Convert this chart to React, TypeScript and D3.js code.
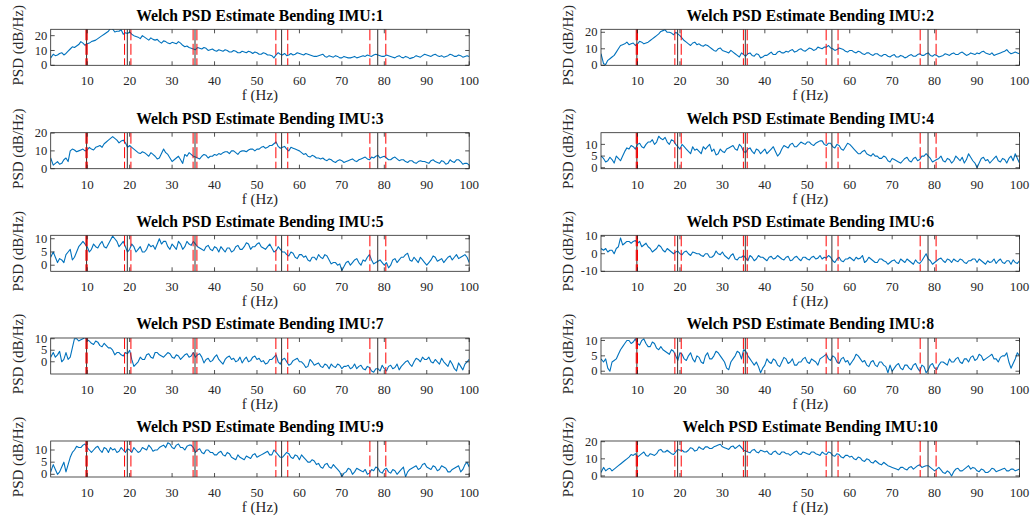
import React from 'react';
import * as d3 from 'd3';

// frequency grid (Hz): 1.4, then every 0.5 Hz from 2 to 100
const freq = [1.4, ...d3.range(2, 100.01, 0.5)];

// PSD values (dB/Hz) at 1.4 and at whole Hz 2..100
const imu1 = [5, 7.5, 7, 8.5, 8, 11, 12, 14, 15, 14.5, 16, 17, 19, 21, 23, 24.5, 23, 24, 22, 22.5, 20, 19, 20, 18, 18.5, 17, 16, 16.5, 15, 15.5, 14.5, 15, 12.5, 12, 11, 12, 11, 11.5, 10.5, 10, 10.5, 9.5, 10, 9, 9.5, 8.5, 9, 9.5, 8, 8.5, 7.5, 8, 7, 5, 8.5, 7, 6.5, 8, 7.5, 8, 7, 7.5, 6.5, 6, 7, 6, 6.5, 5.5, 6, 5, 5.5, 5, 6, 5.5, 6.5, 7, 6, 7.5, 6.5, 6, 6.5, 5.5, 6, 5.5, 6, 4.5, 5.5, 6, 6.5, 7, 6, 7.5, 6, 5.5, 6.5, 7, 6, 6.5, 6, 6];
const imu2 = [7, 1, 3, 5, 8, 12, 13, 12.5, 13.5, 13, 14, 13.5, 15, 17, 19, 21, 20, 19.5, 20, 18, 15, 13, 13.5, 12.5, 12, 12.5, 11, 9, 10, 9, 8, 9, 7, 5, 6.5, 7, 6, 7, 4.5, 6, 7, 6.5, 8, 7.5, 8.5, 9, 8, 9.5, 9, 9.5, 10, 9.5, 10.5, 11, 12, 10, 9.5, 10, 8.5, 9, 8, 8.5, 7, 7.5, 6.5, 7, 6, 6.5, 5.5, 6, 5, 6, 4.5, 6, 5.5, 6.5, 6, 7, 6, 6.5, 5, 6, 6.5, 7, 6.5, 7.5, 7, 6.5, 7, 7.5, 8, 7.5, 6.5, 6, 7, 8, 9.5, 7, 8, 7];
const imu3 = [6, 2, 4, 3, 6, 10, 10.5, 10, 11, 10.5, 11, 12, 13, 14, 16, 18, 16, 15.5, 14.5, 13, 11, 9, 9.5, 8, 9, 7, 6, 11, 8, 4, 6, 5, 8, 9, 7, 6, 7, 7.5, 7, 8, 8.5, 9, 9.5, 10, 9, 9.5, 10, 10.5, 11, 11, 12, 11.5, 13, 14, 12.5, 12, 11, 12, 11, 10, 8, 7, 7.5, 6, 5.5, 5, 5.5, 4, 4.5, 4.5, 4, 5, 4.5, 5, 6, 5.5, 6.5, 7, 6, 7, 5, 6, 5.5, 5, 4, 4.5, 3.5, 4, 4, 3.5, 4.5, 4, 3, 4, 3, 4, 5, 4, 3, 2];
const imu4 = [5, 4, 3, 3.5, 5, 3, 7, 8, 9, 10, 9, 10, 11, 10, 13.5, 12, 11, 12, 10, 8, 9, 7, 9, 8, 6, 8, 10, 8, 6, 7, 8, 9, 8, 10, 7, 8, 7, 8, 6, 8, 7, 9, 5, 8, 9, 10, 9, 10, 10.5, 11, 10, 10.5, 11.5, 10, 10.5, 9, 10, 8, 9, 10, 8, 6, 7, 6, 5, 5, 4, 5, 3, 4, 3, 2, 4, 3, 4, 3, 5, 6, 4, 3, 4, 3, 4, 2, 5, 3, 2, 6, 3, 0, 4, 3, 2, 4, 3, 4, 2, 5, 6, 2];
const imu5 = [3, 5, 1, 2, 4, 6, 3, 7, 9, 7, 6, 7, 8, 7, 8, 11, 9, 8, 7, 6, 7, 6, 5, 6, 7, 6, 10, 9, 7, 8, 6, 8, 7, 8, 9, 7, 6, 7, 6, 7, 5, 6, 6.5, 5, 7, 6, 7, 8, 7, 8, 7, 6, 8, 5, 7, 5, 4, 5, 3, 4, 3, 2, 3, 2, 3, 4, 2, 1, 0, -2, 1, 0, 2, 1, 2, 3, 2, 1, 2, 0, -1, 2, 1, 3, 4, 2, 3, 1, 2, 0, 2, 3, 2, 1, 3, 2, 4, 3, 4, 1];
const imu6 = [3, 2, 1, 2, 3, 9, 6, 7, 7, 6, 4, 6, 3, 2, 5, 2, 3, 1, 1, 0, 1, 0, 1, 0, -1, 0, -2, -1, 0, 1, -2, -1, -3, -2, -1, -4, -2, -3, -2, -3, -2, -3, -1, -3, -2, -4, -2, -3, -2, -3, -2, -3, -1, -2, -1, -4, -3, -4, -3, -2, -4, -3, -1, -4, -3, -5, -3, -4, -6, -4, -5, -3, -5, -4, -6, -5, -4, 0, -4, -5, -3, -4, -3, -5, -4, -3, -5, -4, -3, -5, -4, -6, -5, -3, -4, -5, -4, -6, -5, -4];
const imu7 = [2, 4, 3, 0, 4, 2, 10, 9, 10, 9.5, 8, 9, 7, 8, 6, 5, 4, 3, 4, 5, -2, 0, 1, 3, 2, 4, 3, 2, 4, 2, 3, 1, 3, 2, 4, 3, 2, 1, 0, 2, 1, -1, 2, 1, 0, 2, 1, 0, 2, 1, 0, -1, 1, 2, 0, 1, 0, -1, 1, 0, -1, -2, 0, -1, -2, -1, -3, -2, -1, -3, -2, -3, -1, -2, -3, -2, -4, -3, -4, -3, -2, -3, -1, -2, 0, -1, 0, 1, 2, 1, 0, 1, -1, 0, -2, -1, -4, -2, -1, 1];
const imu8 = [4, 3, 1, 3, 4, 7, 9, 10, 9.5, 9, 10, 9, 8, 9, 7, 7, 6, 7, 5, 6, 4, 5, 4, 5, 3, 5, 4, 5, 6, 4, 1, 3, 5, 6, 7, 5, 3, 3, -0.5, 2, 3, 4, 2, 3, 4, 3, 2, 3, 4, 3, 4, 3, 4, 5, 4, 5, 3, 4, 3, 2, 4, 5, 3, 2, 3, 2, 3, 2, -0.5, 0, 2, 1, 2, 1, 2, 1, 2, -0.5, 2, 1, 2, 3, 2, 3, 4, 3, 4, 3, 5, 4, 5, 4, 5, 4, 3, 5, 6, 1, 4, 5];
const imu9 = [1, 4, 0, 3, 1, 7, 10, 11, 12, 11, 9, 11, 10, 11, 9, 10, 9, 11, 9, 10, 11, 9, 11, 10, 11, 10, 11, 12, 13, 11, 12, 11, 10, 12, 11, 10, 9, 10, 9, 8, 9, 8, 9, 7, 6, 7, 6, 7, 8, 7, 8, 9, 8, 10, 8, 7, 9, 7, 8, 6, 7, 5, 6, 4, 3, 4, 3, 4, 2, -1, 1, 2, 1, 2, 1, 0, 2, 3, 1, 2, 1, 2, 0, 2, -1, 2, 3, 2, 4, 3, 2, 3, 2, 3, 1, 2, 3, 1, 4, 3];
const imu10 = [2, 5, 4, 3, 5, 7, 9, 11, 12, 11, 13, 12, 13, 12, 15, 14, 15, 13, 14, 15, 14, 15, 16, 15, 16, 17, 16, 17, 18, 17, 16, 17, 16, 18, 15, 14, 15, 14, 15, 14, 13, 14, 13, 14, 13, 12, 14, 13, 14, 13, 14, 13, 12, 13, 14, 12, 13, 11, 12, 11, 10, 11, 9, 10, 8, 9, 7, 8, 6, 5, 4, 5, 4, 5, 4, 6, 5, 6, 5, 3, 5, 2, 3, 0, 4, 3, 4, 6, 5, 3, 4, 2, 3, 4, 3, 4, 3, 4, 3, 4];

// PSD values at the half-Hz points 2.5..99.5
const imu1Half = [6.5, 8, 7, 9.5, 12.5, 13, 16, 13.5, 15, 16.5, 18, 20, 22, 25, 22.5, 23, 21, 21.5, 21, 19.5, 18, 19, 17, 17.5, 17.5, 15, 16, 14.5, 15, 16, 13.5, 13, 11.5, 10.5, 11.5, 12, 10, 11, 9.5, 10, 10.5, 9, 10, 8.5, 9.5, 8.5, 9, 9, 7.5, 8.5, 7, 6.5, 7, 7.5, 8, 7, 7, 8.5, 7.5, 8, 7, 6, 6.5, 7.5, 5.5, 6, 6.5, 5, 6, 5, 5.5, 5, 6, 6, 6.5, 7, 7, 6, 7, 6, 5, 6.5, 5, 5.5, 5, 6.5, 5.5, 7.5, 6.5, 7, 6.5, 6.5, 6, 7.5, 6, 7, 5.5, 6.5];
const imu2Half = [0.5, 4, 6, 10, 12.5, 14, 13, 12, 14.5, 13, 14, 16, 18, 20.5, 21.5, 20, 18.5, 19, 16.5, 14, 12, 14, 13, 11.5, 12, 10, 8.5, 10.5, 8.5, 7.5, 8, 6, 7.5, 5.5, 7.5, 5.5, 6.5, 5, 6, 8, 6.5, 8.5, 7.5, 8, 9.5, 8.5, 10, 8.5, 10.5, 9, 11, 10, 11, 10.5, 9, 10.5, 9.5, 8, 9, 7.5, 8, 6.5, 7.5, 6, 7, 5.5, 6.5, 5, 6.5, 5, 5.5, 5, 6.5, 5.5, 7, 6, 7.5, 5.5, 6, 5.5, 7, 6, 7.5, 6.5, 8, 6, 7.5, 6.5, 7, 8.5, 7, 7.5, 6.5, 7.5, 8.5, 8, 7.5, 7.5];
const imu3Half = [3, 2.5, 5, 4, 11, 9.5, 10.5, 10, 12, 10.5, 12.5, 12, 15, 17, 17, 14.5, 16, 12, 12, 10, 8.5, 9, 7, 8, 5.5, 8.5, 9, 6, 5, 7, 3, 7, 8, 6.5, 5.5, 8, 6, 7, 7.5, 8, 9.5, 8.5, 10, 8, 10, 9.5, 11, 10, 11, 12.5, 12, 13, 15, 11.5, 12.5, 10, 11.5, 10.5, 9, 8.5, 6.5, 7, 6, 6, 4.5, 5, 3.5, 5, 3.5, 4.5, 5.5, 4, 5.5, 6.5, 5, 6, 7.5, 6.5, 6, 5, 6.5, 4.5, 5, 3.5, 4.5, 3, 4.5, 4, 3, 5, 3.5, 4.5, 2.5, 5, 3.5, 5, 2.5, 3];
const imu4Half = [2.5, 4.5, 2, 4, 5, 8.5, 9.5, 8, 10.5, 8.5, 11, 12, 11, 12.5, 13, 10, 11.5, 9, 10, 8, 6, 7.5, 7, 9, 9, 7, 5.5, 8, 6.5, 8.5, 9.5, 7.5, 9, 6.5, 8.5, 6, 7.5, 7, 6, 8, 7, 6, 9.5, 8.5, 10.5, 9, 11, 10, 11, 9.5, 11, 11.5, 9.5, 10.5, 8.5, 9.5, 7.5, 10.5, 9, 7, 6, 7.5, 5.5, 6, 5, 4, 4.5, 2.5, 3.5, 2.5, 3, 4.5, 2.5, 4.5, 3.5, 5, 5, 2.5, 3.5, 5, 2.5, 3.5, 3, 4, 4.5, 3.5, 4.5, 2, 2, 4.5, 3.5, 3, 5, 2.5, 3.5, 4, 3, 4];
const imu5Half = [3, 2.5, 1, 5, 2, 5, 8, 8, 5, 8, 6.5, 9, 6.5, 9.5, 10, 7, 9, 5, 8, 5, 7, 5, 8, 7.5, 8, 8, 9, 6, 7, 9, 6, 9, 7.5, 8, 6.5, 5.5, 7.5, 5.5, 6.5, 7, 5, 6.5, 5.5, 7.5, 6, 8.5, 6, 7, 8.5, 6.5, 7, 6.5, 5.5, 6, 5, 3.5, 4.5, 2.5, 4, 3.5, 1.5, 3, 4, 2.5, 3.5, 0.5, 1, 0.5, -0.5, 1.5, 1, 2.5, 0, 1.5, 4, 0.5, 1.5, 1, 1, 0, 2.5, 2, 3, 4.5, 1.5, 2, 3, 1, 1, 3.5, 1.5, 2.5, 2, 3.5, 3, 2.5, 3.5, 3];
const imu6Half = [3, 2, 0, 4, 5, 7, 6, 7.5, 7, 5, 4, 1, 3, 4, 1, 2, 0, 1.5, -0.5, 1.5, -1, 0.5, 0, -1.5, 0, -2, 1.5, -0.5, -1, -3, 0, -3.5, -2, -2.5, -1, -4, -1, -2, -4, -1.5, -2.5, -2, -3.5, -1.5, -3.5, -1.5, -4, -2, -3.5, -1.5, -2.5, -3, -2.5, -2, -5, -2, -4.5, -3, -3, -2, -2.5, -5, -2, -4, -5, -3, -4.5, -5, -3.5, -5.5, -4, -3, -5, -3.5, -5.5, -2, -3, -6, -4, -2.5, -5, -3.5, -3, -4.5, -3.5, -5.5, -4, -3, -3, -5, -4, -4.5, -5.5, -3, -5.5, -4, -3.5, -5.5];
const imu7Half = [2, 4.5, 1, 1, 6, 10, 9.5, 10.5, 9, 7.5, 8.5, 6.5, 7, 6, 3, 4, 2.5, 3.5, 1, -1, 2, 1, 3.5, 1.5, 4, 2.5, 3, 3.5, 1.5, 2.5, 2, 3.5, 2.5, 2, 3.5, -0.5, 1.5, 0.5, 3, 0, 1, 2.5, 1.5, 0.5, -0.5, 2, 0.5, 2.5, 1.5, 0.5, -0.5, 1, 3, -1, 1.5, -1.5, 0.5, 1.5, 0, -2.5, 1, -1.5, -0.5, -2.5, -1.5, -1, -2.5, -1.5, -2, -1.5, -2.5, -3, -1.5, -3.5, -2.5, -4.5, -3, -1.5, -4, -1.5, -2.5, -3.5, -1, 0.5, -2, 1.5, 0, 1, 2, -0.5, 0, 1.5, -1, 0.5, -3, -0.5, -3.5, 0];
const imu8Half = [4, 0, 3.5, 5.5, 8, 10, 9, 10.5, 8.5, 10.5, 8, 9.5, 7.5, 8, 6.5, 5.5, 6.5, 3.5, 5.5, 3.5, 6, 3, 4.5, 2.5, 6, 4, 6.5, 5, 3, 0.5, 4, 6.5, 4, 6.5, 4, 2, 1.5, 1, 4, 2.5, 3.5, 1.5, 4.5, 2.5, 4, 2, 3, 4.5, 2.5, 3.5, 2, 4.5, 5.5, 3.5, 4.5, 2.5, 4.5, 3.5, 3, 5.5, 4, 3.5, 1.5, 3.5, 1.5, 3, 1.5, 2, 1, 2.5, 0.5, 2, 0.5, 2.5, 0, 1.5, 0.5, 2.5, 0.5, 3, 2.5, 4, 3, 4.5, 2.5, 4, 4.5, 3.5, 5.5, 3.5, 4.5, 5.5, 4, 4.5, 5, 3, 2.5, 6];
const imu9Half = [2, 1, 5, 4, 9, 11.5, 11, 12.5, 10, 10, 11.5, 9, 10.5, 11, 10.5, 9.5, 10, 10.5, 9, 10, 9.5, 10.5, 12, 9.5, 10, 11.5, 11, 12.5, 10.5, 12.5, 11, 11.5, 12, 9, 10.5, 8.5, 10, 9, 8, 9.5, 7.5, 8.5, 6.5, 8, 6.5, 7.5, 6.5, 8.5, 7.5, 8.5, 9.5, 8, 9, 7, 8, 8.5, 6.5, 7.5, 8, 6, 5, 5.5, 4.5, 2.5, 4.5, 2.5, 3, 1, 0.5, 2.5, 0, 2.5, 1.5, 2, 0.5, 1.5, 2.5, 0.5, 2.5, 0.5, 1.5, 1, 3, 1, 2.5, 3.5, 2.5, 4.5, 2.5, 3.5, 1.5, 3.5, 2.5, 1, 2.5, 3.5, 2, 5];
const imu10Half = [3, 4.5, 4, 6, 8, 10, 12.5, 13, 12, 14, 11.5, 12.5, 13, 15.5, 14, 14, 12.5, 15.5, 15, 14, 16.5, 14.5, 17, 15.5, 17, 16, 17.5, 18.5, 16.5, 15.5, 17.5, 17, 16.5, 14.5, 13.5, 15.5, 13.5, 14.5, 14.5, 12.5, 14.5, 12.5, 14, 13, 13, 14.5, 12.5, 13.5, 12.5, 14, 12.5, 14, 12.5, 13.5, 11.5, 12.5, 10.5, 12, 11.5, 9.5, 10.5, 8.5, 9.5, 7.5, 8, 6.5, 7, 5.5, 4.5, 3.5, 5, 3.5, 5.5, 5, 6.5, 5.5, 6, 4, 4, 3.5, 1.5, 2, 2.5, 4.5, 3, 5, 4, 4.5, 2.5, 3.5, 2, 4.5, 2.5, 3.5, 4.5, 3, 4, 3.5];

const wholeSeries = [imu1, imu2, imu3, imu4, imu5, imu6, imu7, imu8, imu9, imu10];
const halfSeries = [imu1Half, imu2Half, imu3Half, imu4Half, imu5Half, imu6Half, imu7Half, imu8Half, imu9Half, imu10Half];
const imuNames = ['1', '2', '3', '4', '5', '6', '7', '8', '9', '10'];
const yDomains = [[0, 24.3], [0, 21.8], [0, 20.2], [-0.4, 15], [-2.3, 11.3], [-10, 10.5], [-5.3, 10.3], [-0.9, 10.8], [-1.1, 13.7], [-0.6, 20.4]];
const yTicks = [[0, 10, 20], [0, 10, 20], [0, 10, 20], [0, 5, 10], [0, 5, 10], [-10, 0, 10], [0, 5, 10], [0, 5, 10], [0, 5, 10], [0, 10, 20]];
const xTicks = [10, 20, 30, 40, 50, 60, 70, 80, 90, 100];
// natural frequencies (black) and their bounds (red dashed)
const modeLines = [9.85, 19.45, 35.4, 55.8, 78.45];
const boundLines = [9.7, 10.0, 18.8, 20.3, 34.95, 35.85, 54.45, 57.25, 76.6, 80.35];

// interleave whole-Hz and half-Hz readings onto the freq grid
const mergeSeries = (whole: number[], half: number[]) => {
	const out = [whole[0], whole[1]];
	for (let k = 1; k < whole.length - 1; k++) {
		out.push(half[k - 1], whole[k + 1]);
	}
	return out;
};
const series = wholeSeries.map((w, i) => mergeSeries(w, halfSeries[i]));

const W = 1035;
const H = 522;
const colLeft = [50.7, 601];
const plotW = 418.5;
const rowTop = [29.3, 132.7, 235.3, 338, 441];
const plotH = 36;
const axisColor = '#262626';
const font = '"Liberation Serif", "Times New Roman", serif';

const Panel = ({ i }: { i: number }) => {
	const col = i % 2;
	const row = Math.floor(i / 2);
	const x0 = colLeft[col];
	const y0 = rowTop[row];
	const x = d3.scaleLinear().domain([1.4, 100]).range([x0, x0 + plotW]);
	const y = d3.scaleLinear().domain(yDomains[i]).range([y0 + plotH, y0]);
	const line = d3
		.line<number>()
		.x((_, k) => x(freq[k]))
		.y((d) => y(d));
	const clipId = 'clip' + i;
	const tl = 4;

	return (
		<g>
			<defs>
				<clipPath id={clipId}>
					<rect x={x0} y={y0} width={plotW} height={plotH} />
				</clipPath>
			</defs>
			<g clipPath={'url(#' + clipId + ')'}>
				<path d={line(series[i]) || ''} fill="none" stroke="#0072BD" strokeWidth={1.1} strokeLinejoin="round" />
				{modeLines.map((f, k) => (
					<line key={'m' + k} x1={x(f)} x2={x(f)} y1={y0} y2={y0 + plotH} stroke="#333" strokeWidth={1} />
				))}
				{boundLines.map((f, k) => (
					<line
						key={'b' + k}
						x1={x(f)}
						x2={x(f)}
						y1={y0}
						y2={y0 + plotH}
						stroke="#ff0000"
						strokeWidth={1}
						strokeDasharray="11,3.5"
					/>
				))}
			</g>
			<rect x={x0} y={y0} width={plotW} height={plotH} fill="none" stroke={axisColor} strokeWidth={0.8} />
			{xTicks.map((t) => (
				<g key={'xt' + t}>
					<line x1={x(t)} x2={x(t)} y1={y0 + plotH} y2={y0 + plotH - tl} stroke={axisColor} strokeWidth={0.8} />
					<line x1={x(t)} x2={x(t)} y1={y0} y2={y0 + tl} stroke={axisColor} strokeWidth={0.8} />
					<text x={x(t)} y={y0 + plotH + 20} textAnchor="middle" fontSize={13} fill={axisColor}>
						{t}
					</text>
				</g>
			))}
			{yTicks[i].map((t) => (
				<g key={'yt' + t}>
					<line x1={x0} x2={x0 + tl} y1={y(t)} y2={y(t)} stroke={axisColor} strokeWidth={0.8} />
					<line x1={x0 + plotW} x2={x0 + plotW - tl} y1={y(t)} y2={y(t)} stroke={axisColor} strokeWidth={0.8} />
					<text x={x0 - 3.5} y={y(t)} dy="0.33em" textAnchor="end" fontSize={12.5} fill={axisColor}>
						{t}
					</text>
				</g>
			))}
			<text x={x0 + plotW / 2} y={y0 - 8.6} textAnchor="middle" fontSize={15.7} fontWeight="bold" fill="#000">
				{'Welch PSD Estimate Bending IMU:' + imuNames[i]}
			</text>
			<text x={x0 + plotW / 2} y={y0 + plotH + 35} textAnchor="middle" fontSize={15} fill={axisColor}>
				f (Hz)
			</text>
			<text
				transform={'translate(' + (x0 - 28) + ',' + (y0 + plotH / 2 - 2) + ') rotate(-90)'}
				textAnchor="middle"
				fontSize={15}
				fill={axisColor}
			>
				PSD (dB/Hz)
			</text>
		</g>
	);
};

export default function App() {
	return (
		<svg
			width={W}
			height={H}
			style={{ position: 'absolute', left: 0, top: 0, background: '#fff' }}
			fontFamily={font}
		>
			<rect width={W} height={H} fill="#fff" />
			{series.map((_, i) => (
				<Panel key={i} i={i} />
			))}
		</svg>
	);
}
